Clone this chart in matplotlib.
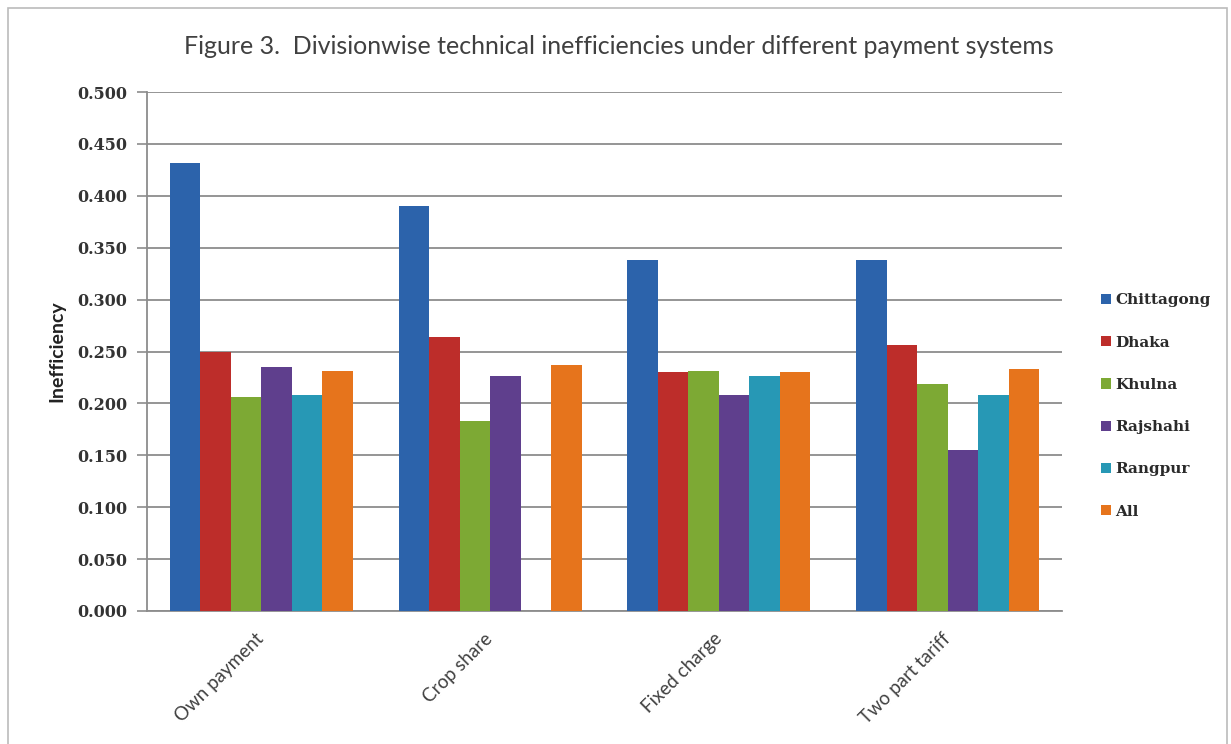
import numpy as np
import matplotlib.pyplot as plt
from matplotlib.patches import Rectangle

# DATA
payment_systems = ["Own payment", "Crop share", "Fixed charge", "Two part tariff"]
divisions = ["Chittagong", "Dhaka", "Khulna", "Rajshahi", "Rangpur", "All"]

chittagong = [0.432, 0.390, 0.338, 0.338]
dhaka = [0.250, 0.264, 0.230, 0.256]
khulna = [0.206, 0.183, 0.231, 0.219]
rajshahi = [0.235, 0.226, 0.208, 0.155]
rangpur = [0.208, 0.000, 0.226, 0.208]
all_div = [0.231, 0.237, 0.230, 0.233]

series = [chittagong, dhaka, khulna, rajshahi, rangpur, all_div]
colors = ["#2C63AB", "#BD2D2A", "#7DA934", "#5F3F8D", "#2798B5", "#E6741C"]

y_ticks = np.arange(0, 0.501, 0.05)

# FIGURE
fig = plt.figure(figsize=(12.31, 7.44), dpi=100)
fig.patch.set_facecolor("white")
fig.patches.append(Rectangle((0.0065, -0.01), 0.99, 0.999, transform=fig.transFigure,
                             fill=False, edgecolor="#BBBBBB", linewidth=1.2))

ax = fig.add_axes([0.1194, 0.1788, 0.7433, 0.6975])

x = np.arange(len(payment_systems))
n = len(series)
width = 0.8 / n

for i, (vals, name, c) in enumerate(zip(series, divisions, colors)):
    offset = (i - (n - 1) / 2) * width
    ax.bar(x + offset, vals, width, color=c, label=name, zorder=3, linewidth=0)

ax.set_xlim(-0.5, len(payment_systems) - 0.5)
ax.set_ylim(0, 0.5)
ax.set_yticks(y_ticks)
ax.set_yticklabels([f"{v:.3f}" for v in y_ticks], fontsize=11.5, fontweight="bold",
                   color="#333333", family="DejaVu Serif")
ax.grid(axis="y", color="#8C8C8C", linewidth=1.3, zorder=0)

ax.set_xticks(x)
ax.set_xticklabels(payment_systems, rotation=45, ha="right", va="center",
                   rotation_mode="anchor", fontsize=13.5, color="#404040", family="Lato")
ax.tick_params(axis="x", length=0, pad=18)
ax.tick_params(axis="y", length=7, color="#8C8C8C", width=1.2, pad=7)

for s in ["top", "right"]:
    ax.spines[s].set_visible(False)
for s in ["left", "bottom"]:
    ax.spines[s].set_color("#8C8C8C")
    ax.spines[s].set_linewidth(1.3)

ax.set_ylabel("Inefficiency", fontsize=14, fontweight="bold", family="Lato",
              color="#222222", labelpad=9)

fig.text(0.503, 0.937, "Figure 3.  Divisionwise technical inefficiencies under different payment systems",
         ha="center", va="center", fontsize=18, color="#404040", family="Lato")

leg = ax.legend(loc="center left", bbox_to_anchor=(1.043, 0.395), frameon=False,
                borderaxespad=0, borderpad=0,
                prop={"family": "DejaVu Serif", "weight": "bold", "size": 11},
                handlelength=0.65, handleheight=0.65, handletextpad=0.25, labelspacing=1.85)
for t in leg.get_texts():
    t.set_color("#2A2A2A")

plt.savefig("out.png", dpi=100)
